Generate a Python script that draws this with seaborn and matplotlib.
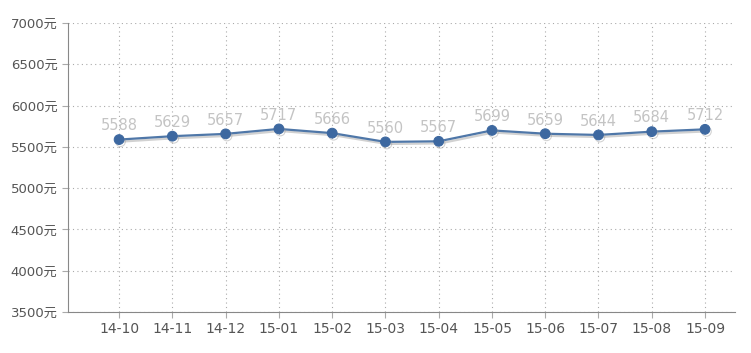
import numpy as np
import matplotlib
matplotlib.use("Agg")
import matplotlib.pyplot as plt
import matplotlib.patheffects as pe
import seaborn as sns
import pandas as pd

months = ["14-10", "14-11", "14-12", "15-01", "15-02", "15-03",
          "15-04", "15-05", "15-06", "15-07", "15-08", "15-09"]
prices = [5588, 5629, 5657, 5717, 5666, 5560, 5567, 5699, 5659, 5644, 5684, 5712]
y_ticks = [3500, 4000, 4500, 5000, 5500, 6000, 6500, 7000]

sns.set_style("white")
plt.rcParams["font.family"] = ["DejaVu Sans", "Noto Sans CJK SC"]

df = pd.DataFrame({"month": months, "price": prices, "idx": range(len(months))})

fig = plt.figure(figsize=(7.51, 3.53), dpi=100)
ax = fig.add_axes([0.0905, 0.116, 0.888, 0.819])

line_color = "#4f77a8"
sns.lineplot(data=df, x="idx", y="price", ax=ax, color=line_color, linewidth=1.6,
             marker="o", markersize=7, markeredgecolor="#3d68a0", markerfacecolor="#3d68a0",
             path_effects=[pe.SimpleLineShadow(offset=(1, -1.5), shadow_color="#999999", alpha=0.45),
                           pe.Normal()])

for i, v in zip(df["idx"], df["price"]):
    ax.text(i, v + 75, str(v), ha="center", va="bottom", fontsize=10.5, color="#c4c4c4")

ax.set_xlim(-0.96, 11.56)
ax.set_ylim(3500, 7000)
ax.set_xticks(df["idx"])
ax.set_xticklabels(months)
ax.set_yticks(y_ticks)
ax.set_yticklabels(["%d元" % t for t in y_ticks])

ax.grid(True, linestyle=(0, (1, 3)), color="#aaaaaa", linewidth=0.8)
ax.spines["top"].set_visible(False)
ax.spines["right"].set_visible(False)
ax.spines["left"].set_color("#888888")
ax.spines["bottom"].set_color("#888888")
ax.tick_params(axis="x", labelsize=10)
ax.tick_params(axis="both", length=4, color="#aaaaaa", labelcolor="#555555", direction="out", bottom=True, left=True)
ax.tick_params(axis="y", labelsize=9.5)
ax.set_xlabel("")
ax.set_ylabel("")

fig.savefig("out.png", dpi=100)
